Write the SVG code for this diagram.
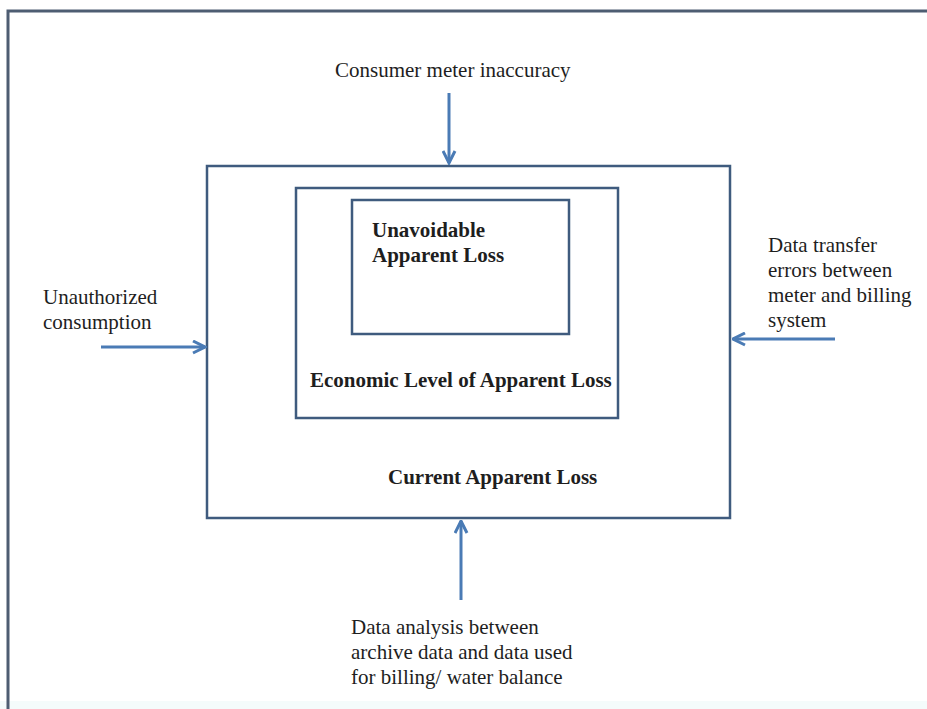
<svg xmlns="http://www.w3.org/2000/svg" width="927" height="709" viewBox="0 0 927 709">
<style>
.t{font-family:"Liberation Serif","Times New Roman",serif;font-size:21px;fill:#1e1e1e}
.b{font-weight:bold}
.box{fill:none;stroke:#3f5b7e;stroke-width:2.5}
.arr{fill:none;stroke:#4a7bb5;stroke-width:3}
</style>
<defs>
<marker id="ah" viewBox="0 0 10 10" refX="9" refY="5" markerWidth="5" markerHeight="5" orient="auto" markerUnits="strokeWidth">
<path d="M1,1 L9,5 L1,9" fill="none" stroke="#4a7bb5" stroke-width="2"/>
</marker>
</defs>
<rect width="927" height="709" fill="#ffffff"/>
<rect x="0" y="701" width="927" height="8" fill="#f4fbfb"/>
<path d="M8,709 L8,11 L927,11" fill="none" stroke="#4e5d72" stroke-width="3"/>
<g id="current">
<rect class="box" x="207" y="166" width="523" height="352"/>
<text class="t b" x="388" y="484">Current Apparent Loss</text>
</g>
<g id="economic">
<rect class="box" x="296" y="188" width="322" height="230"/>
<text class="t b" x="310" y="387">Economic Level of Apparent Loss</text>
</g>
<g id="unavoidable">
<rect class="box" x="352" y="200" width="217" height="134"/>
<text class="t b" x="372" y="237">Unavoidable</text>
<text class="t b" x="372" y="262">Apparent Loss</text>
</g>
<g id="meter">
<text class="t" x="335" y="77">Consumer meter inaccuracy</text>
</g>
<g id="unauthorized">
<text class="t" x="43" y="304">Unauthorized</text>
<text class="t" x="43" y="329">consumption</text>
</g>
<g id="transfer">
<text class="t" x="768" y="252">Data transfer</text>
<text class="t" x="768" y="277">errors between</text>
<text class="t" x="768" y="302">meter and billing</text>
<text class="t" x="768" y="327">system</text>
</g>
<g id="analysis">
<text class="t" x="351" y="634">Data analysis between</text>
<text class="t" x="351" y="659">archive data and data used</text>
<text class="t" x="351" y="684">for billing/ water balance</text>
</g>
<g id="connectors">
<line class="arr" x1="449" y1="93" x2="449" y2="163" marker-end="url(#ah)"/>
<line class="arr" x1="101" y1="347" x2="205" y2="347" marker-end="url(#ah)"/>
<line class="arr" x1="835" y1="339" x2="733" y2="339" marker-end="url(#ah)"/>
<line class="arr" x1="461" y1="600" x2="461" y2="521" marker-end="url(#ah)"/>
</g>
</svg>
